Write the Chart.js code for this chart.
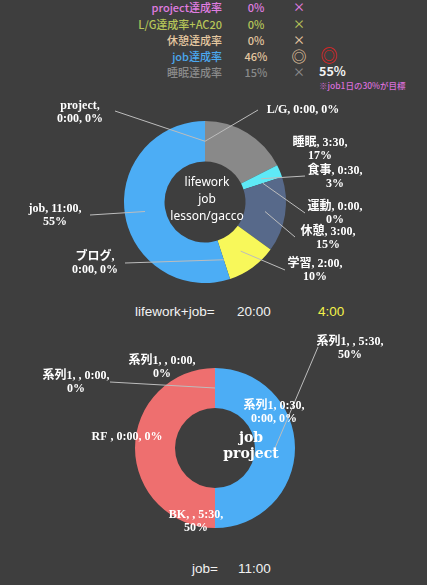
<!DOCTYPE html>
<html>
<head>
<meta charset="utf-8">
<script src="https://cdn.jsdelivr.net/npm/chart.js@4"></script>
<style>
  body { margin: 0; background: #3e3e3e; width: 427px; height: 585px; overflow: hidden; position: relative;
         font-family: "Noto Sans CJK JP", "Noto Sans", sans-serif; }
  .t { position: absolute; font-size: 11px; line-height: 14px; white-space: nowrap; font-weight: 500; }
  .r { text-align: right; }
  .c { text-align: center; }
  .sum { position: absolute; font-family: "Liberation Sans", "Noto Sans CJK JP", sans-serif; font-size: 13.5px; color: #f2f2f2; white-space: nowrap; }
  canvas { position: absolute; left: 0; }
</style>
</head>
<body>
<div id="table"></div>
<canvas id="life" width="427" height="210" style="top:90px"></canvas>
<div class="sum" style="left:135px; top:304px">lifework+job=</div>
<div class="sum" style="left:237px; top:304px">20:00</div>
<div class="sum" style="left:318px; top:304px; color:#f4f24a">4:00</div>
<canvas id="job" width="427" height="220" style="top:330px"></canvas>
<div class="sum" style="left:192px; top:561px">job=</div>
<div class="sum" style="left:238px; top:561px">11:00</div>
<script>
// achievement table
const rateNames = ['project達成率', 'L/G達成率+AC20', '休憩達成率', 'job達成率', '睡眠達成率'];
const rateValues = ['0%', '0%', '0%', '46%', '15%'];
const rateMarks = ['×', '×', '×', '◎', '×'];
const rateColors = ['#e07de0', '#b6c558', '#e6c8a0', '#4aa8f0', '#8a8a8a'];

// lifework donut (minutes)
const lifeCats = ['L/G', '睡眠', '食事', '運動', '休憩', '学習', 'ブログ', 'job', 'project'];
const lifeMinutes = [0, 210, 30, 0, 180, 120, 0, 660, 0];
const lifePct = [0, 17, 3, 0, 15, 10, 0, 55, 0];
const lifeColors = ['#898989', '#898989', '#5ee9f7', '#57698a', '#57698a', '#f8f85a', '#4cadf5', '#4cadf5', '#4cadf5'];

// job/project donut (minutes)
const jobSeries = ['系列1', '系列1', 'BK', 'RF ', '系列1', '系列1'];
const jobCats = ['', '0:30', '', null, '', ''];
const jobMinutes = [330, 0, 330, 0, 0, 0];
const jobPct = [50, 0, 50, 0, 0, 0];
const jobColors = ['#4cadf5', '#4cadf5', '#ee6f6f', '#ee6f6f', '#ee6f6f', '#ee6f6f'];

const table = document.getElementById('table');
const rowY = [0, 17, 33, 49, 65];
rateNames.forEach((n, i) => {
  const col = rateColors[i];
  const valCol = i === 3 ? '#e6c8a0' : col;
  table.insertAdjacentHTML('beforeend',
    `<div class="t r" style="right:205px; top:${rowY[i]}px; color:${col}">${n}</div>` +
    `<div class="t c" style="left:236px; width:40px; top:${rowY[i]}px; color:${valCol}">${rateValues[i]}</div>` +
    `<div class="t c" style="left:288px; width:22px; top:${rowY[i]}px; color:${valCol}; font-size:${rateMarks[i] === '◎' ? 15 : 12}px">${rateMarks[i]}</div>`);
});
table.insertAdjacentHTML('beforeend',
  `<div class="t c" style="left:318px; width:22px; top:48px; color:#e82222; font-size:17px">◎</div>` +
  `<div class="t" style="left:319px; top:64px; color:#f4f4f4; font-size:12.5px; font-weight:bold">55%</div>` +
  `<div class="t" style="left:319px; top:78px; color:#d96fd9; font-size:8.5px">※job1日の30%が目標</div>`);

const fmt = m => Math.floor(m / 60) + ':' + String(m % 60).padStart(2, '0');

const sliceLabels = {
  id: 'sliceLabels',
  afterDatasetsDraw(chart, args, opts) {
    const ctx = chart.ctx;
    const meta = chart.getDatasetMeta(0);
    const cx = meta.data[0].x, cy = meta.data[0].y;
    ctx.save();
    ctx.textAlign = 'center';
    ctx.textBaseline = 'middle';
    opts.items.forEach((it, i) => {
      if (!it.lead) return;
      const p = meta.data[i].tooltipPosition();
      ctx.strokeStyle = '#bdbdbd';
      ctx.lineWidth = 1;
      ctx.beginPath();
      ctx.moveTo(cx + it.lead[0], cy + it.lead[1]);
      ctx.lineTo(p.x, p.y);
      ctx.stroke();
    });
    ctx.font = opts.font;
    ctx.fillStyle = '#ffffff';
    opts.items.forEach((it, i) => {
      const parts = opts.parts(i);
      const lines = it.split ? [parts.slice(0, it.split).join(', ') + ',', parts.slice(it.split).join(', ')] : [parts.join(', ')];
      lines.forEach((ln, k) => {
        ctx.fillText(ln, cx + it.dx, cy + it.dy + (k - (lines.length - 1) / 2) * 13);
      });
    });
    if (opts.center) {
      const c = opts.center;
      ctx.font = c.font;
      c.lines.forEach((ln, k) => {
        ctx.fillText(ln, cx + c.dx, cy + c.dy + (k - (c.lines.length - 1) / 2) * c.lh);
      });
    }
    ctx.restore();
  }
};

const labelFont = 'bold 12px "Liberation Serif", "Noto Sans CJK JP", serif';

new Chart(document.getElementById('life'), {
  type: 'doughnut',
  data: {
    labels: lifeCats,
    datasets: [{ data: lifeMinutes, backgroundColor: lifeColors, borderWidth: 0, hoverOffset: 0 }]
  },
  options: {
    responsive: false,
    animation: false,
    cutout: '50%',
    layout: { padding: { left: 124, right: 141, top: 31, bottom: 17 } },
    plugins: {
      legend: { display: false },
      tooltip: { enabled: false },
      sliceLabels: {
        font: labelFont,
        parts: i => [lifeCats[i], fmt(lifeMinutes[i]), lifePct[i] + '%'],
        items: [
          { dx: 98, dy: -92, split: 0, lead: [53, -92] },
          { dx: 115, dy: -53, split: 2 },
          { dx: 130, dy: -25, split: 2, lead: [100, -26] },
          { dx: 130, dy: 11, split: 2, lead: [100, 11] },
          { dx: 123, dy: 36, split: 2, lead: [90, 35] },
          { dx: 110, dy: 68, split: 2, lead: [80, 68] },
          { dx: -110, dy: 61, split: 1, lead: [-80, 61] },
          { dx: -150, dy: 13, split: 2, lead: [-115, 13] },
          { dx: -125, dy: -90, split: 1, lead: [-90, -91] }
        ],
        center: { lines: ['lifework', 'job', 'lesson/gacco'], dx: 2, dy: -2, lh: 17, font: '12px "Noto Sans", sans-serif' }
      }
    }
  },
  plugins: [sliceLabels]
});

new Chart(document.getElementById('job'), {
  type: 'doughnut',
  data: {
    labels: jobSeries,
    datasets: [{ data: jobMinutes, backgroundColor: jobColors, borderWidth: 0, hoverOffset: 0 }]
  },
  options: {
    responsive: false,
    animation: false,
    cutout: '50%',
    layout: { padding: { left: 135, right: 132, top: 38, bottom: 22 } },
    plugins: {
      legend: { display: false },
      tooltip: { enabled: false },
      sliceLabels: {
        font: labelFont,
        parts: i => [jobSeries[i], jobCats[i], fmt(jobMinutes[i]), jobPct[i] + '%'].filter(p => p !== null),
        items: [
          { dx: 135, dy: -100, split: 3, lead: [103, -101] },
          { dx: 59, dy: -36, split: 2 },
          { dx: -19, dy: 73, split: 3 },
          { dx: -88, dy: -11, split: 0 },
          { dx: -53, dy: -81, split: 3 },
          { dx: -139, dy: -66, split: 3, lead: [-105, -66] }
        ],
        center: { lines: ['job', 'project'], dx: 36, dy: -2, lh: 16, font: 'bold 14px "DejaVu Serif", serif' }
      }
    }
  },
  plugins: [sliceLabels]
});
</script>
</body>
</html>
